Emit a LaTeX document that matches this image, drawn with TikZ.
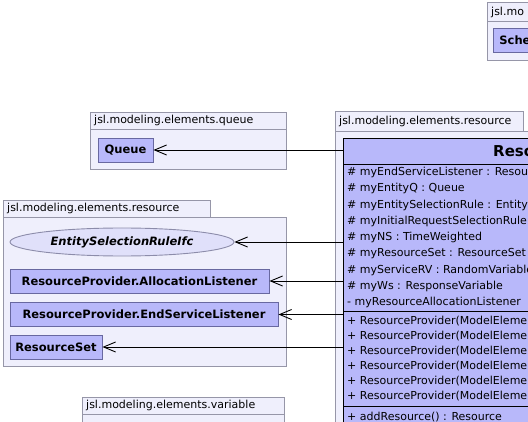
\documentclass[tikz,border=0pt]{standalone}
\usepackage{fontspec}
\setmainfont{DejaVu Sans}
\usepackage{xcolor}
\usetikzlibrary{arrows.meta,shapes.geometric}

\definecolor{pkgfill}{RGB}{239,239,252}
\definecolor{pkgline}{RGB}{150,150,168}
\definecolor{clsfill}{RGB}{184,184,250}
\definecolor{clsline}{RGB}{104,104,160}
\definecolor{ifcfill}{RGB}{224,224,250}
\definecolor{ifcline}{RGB}{140,140,170}

\begin{document}
\begin{tikzpicture}[x=1pt,y=-1pt]
\tikzstyle{every node}+=[inner sep=0pt]
\tikzstyle{pkg}=[draw=pkgline,fill=pkgfill,line width=0.9pt]
\tikzstyle{pkgname}=[anchor=west,font=\fontsize{11}{13}\selectfont]
\tikzstyle{cls}=[draw=clsline,fill=clsfill,line width=0.9pt,minimum height=24pt,font=\fontsize{11.5}{13}\selectfont\bfseries]
\tikzstyle{member}=[anchor=west,font=\fontsize{11}{13}\selectfont]
\tikzstyle{dep}=[black,line width=0.9pt,-{Straight Barb[length=12pt,width=10pt]}]
\useasboundingbox (0,0) rectangle (528,422);
\clip (0,0) rectangle (528,422);
% packages
\draw [pkg] (487,2) rectangle (560,21);
\draw [pkg] (487,21) rectangle (560,60);
\node [pkgname] (evtab) at (491,12) {jsl.mo};
\draw [pkg] (90,129) rectangle (286,169);
\draw [pkg] (90,112) rectangle (286,129);
\node [pkgname] (queuetab) at (94,120.5) {jsl.modeling.elements.queue};
\draw [pkg] (335,131) rectangle (560,440);
\draw [pkg] (335,111) rectangle (523,131);
\node [pkgname] (restabR) at (339,121) {jsl.modeling.elements.resource};
\draw [pkg] (3,217) rectangle (286,366);
\draw [pkg] (3,200) rectangle (210,217);
\node [pkgname] (restabL) at (7,208.5) {jsl.modeling.elements.resource};
\draw [pkg] (82,414) rectangle (284,440);
\draw [pkg] (82,397) rectangle (284,414);
\node [pkgname] (vartab) at (86,405.5) {jsl.modeling.elements.variable};
% classes
\node [cls,anchor=west,minimum width=60pt,text width=48pt,align=left,inner xsep=6pt] (sched) at (493,40) {Sche};
\node [cls,minimum width=55pt] (queue) at (125.5,150) {Queue};
\node [cls,ellipse,draw=ifcline,fill=ifcfill,minimum width=224pt,minimum height=28pt,font=\fontsize{11.5}{13}\selectfont\bfseries\itshape] (selrule) at (122,242) {EntitySelectionRuleIfc};
\node [cls,minimum width=259pt] (alloc) at (139.5,281) {ResourceProvider.AllocationListener};
\node [cls,minimum width=268pt] (endsrv) at (144,314.5) {ResourceProvider.EndServiceListener};
\node [cls,minimum width=92pt] (resset) at (56,347) {ResourceSet};
\node [cls,draw=black,anchor=north west,minimum width=480pt,minimum height=300pt] (rp) at (343,138) {};
\node [anchor=west,font=\fontsize{15}{18}\selectfont\bfseries] (rptitle) at (493,151) {ResourceProvider};
\draw [black,line width=0.9pt] (rp.west |- 0,164) -- (rp.east |- 0,164);
\draw [black,line width=0.9pt] (rp.west |- 0,311) -- (rp.east |- 0,311);
\draw [black,line width=0.9pt] (rp.west |- 0,406) -- (rp.east |- 0,406);
% members
\node [member] (a1) at (347,172.5) {\# myEndServiceListener : Resource};
\node [member] (a2) at (347,188.8) {\# myEntityQ : Queue};
\node [member] (a3) at (347,205.1) {\# myEntitySelectionRule : EntitySelectionRuleIfc};
\node [member] (a4) at (347,221.4) {\# myInitialRequestSelectionRule};
\node [member] (a5) at (347,237.7) {\# myNS : TimeWeighted};
\node [member] (a6) at (347,254) {\# myResourceSet : ResourceSet};
\node [member] (a7) at (347,270.3) {\# myServiceRV : RandomVariable};
\node [member] (a8) at (347,286.6) {\# myWs : ResponseVariable};
\node [member] (a9) at (347,302.9) {- myResourceAllocationListener};
\node [member] (c1) at (347,321) {+ ResourceProvider(ModelElement};
\node [member] (c2) at (347,336) {+ ResourceProvider(ModelElement};
\node [member] (c3) at (347,351) {+ ResourceProvider(ModelElement};
\node [member] (c4) at (347,366) {+ ResourceProvider(ModelElement};
\node [member] (c5) at (347,381) {+ ResourceProvider(ModelElement};
\node [member] (c6) at (347,396) {+ ResourceProvider(ModelElement};
\node [member] (o1) at (347,417) {+ addResource() : Resource};
% dependencies
\draw [dep] (rp.west |- queue.east) -- (queue.east);
\draw [dep] (rp.west |- selrule.east) -- (selrule.east);
\draw [dep] (rp.west |- alloc.east) -- (alloc.east);
\draw [dep] (rp.west |- endsrv.east) -- (endsrv.east);
\draw [dep] (rp.west |- resset.east) -- (resset.east);
\end{tikzpicture}
\end{document}
